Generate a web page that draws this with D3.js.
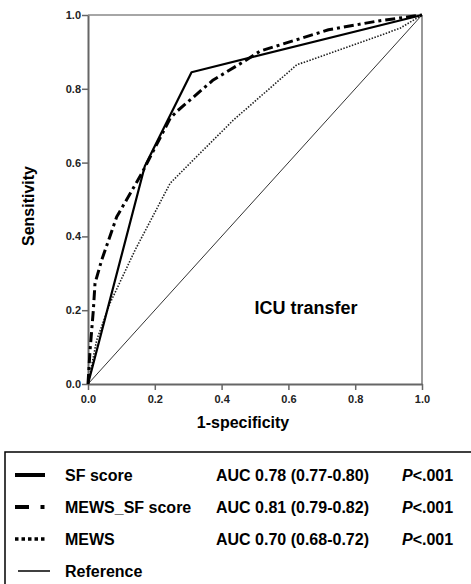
<!DOCTYPE html>
<html>
<head>
<meta charset="utf-8">
<script src="https://cdn.jsdelivr.net/npm/d3@7"></script>
<style>
    body { margin: 0; background: #fff; }
    text { font-family: "Liberation Sans", Arial, sans-serif; }
</style>
</head>
<body>
<div id="wrapper"></div>
<script>
// ROC points (1-specificity, sensitivity)
const sfFpr = [0, 0.17, 0.31, 1];
const sfTpr = [0, 0.59, 0.845, 1];

const mewsSfFpr = [0, 0.006, 0.016, 0.021, 0.041, 0.086, 0.161, 0.246, 0.265, 0.375, 0.465, 0.515, 0.72, 0.87, 1];
const mewsSfTpr = [0, 0.09, 0.2, 0.273, 0.336, 0.453, 0.571, 0.72, 0.738, 0.824, 0.873, 0.902, 0.96, 0.984, 1];

const mewsFpr = [0, 0.026, 0.066, 0.141, 0.246, 0.315, 0.435, 0.625, 0.814, 0.934, 1];
const mewsTpr = [0, 0.119, 0.219, 0.363, 0.544, 0.607, 0.715, 0.865, 0.925, 0.964, 1];

const refFpr = [0, 1];
const refTpr = [0, 1];

const tickValues = [0, 0.2, 0.4, 0.6, 0.8, 1.0];

const legendNames = ["SF score", "MEWS_SF score", "MEWS", "Reference"];
const legendAuc = ["AUC 0.78 (0.77-0.80)", "AUC 0.81 (0.79-0.82)", "AUC 0.70 (0.68-0.72)", ""];
const legendP = ["<.001", "<.001", "<.001", ""];

let wSvg = 471;
let hSvg = 584;

let svg = d3.select("#wrapper")
    .append("svg")
    .attr("width", wSvg)
    .attr("height", hSvg);

let xScale = d3.scaleLinear().domain([0, 1]).range([88, 422]);
let yScale = d3.scaleLinear().domain([0, 1]).range([384, 15]);

// frame (top + right)
svg.append("line")
    .attr("x1", xScale(0)).attr("x2", xScale(1))
    .attr("y1", yScale(1)).attr("y2", yScale(1))
    .attr("stroke", "#888").attr("stroke-width", 1.5);
svg.append("line")
    .attr("x1", xScale(1)).attr("x2", xScale(1))
    .attr("y1", yScale(0)).attr("y2", yScale(1))
    .attr("stroke", "#555").attr("stroke-width", 1.2);

// axes
let xAxis = svg.append("g")
    .attr("transform", `translate(0,${yScale(0)})`)
    .call(d3.axisBottom(xScale).tickValues(tickValues).tickFormat(d3.format(".1f")).tickSize(6).tickSizeOuter(0));
let yAxis = svg.append("g")
    .attr("transform", `translate(${xScale(0)},0)`)
    .call(d3.axisLeft(yScale).tickValues(tickValues).tickFormat(d3.format(".1f")).tickSize(6).tickSizeOuter(0));

[xAxis, yAxis].forEach(ax => {
    ax.select(".domain").attr("stroke", "#666").attr("stroke-width", 2);
    ax.selectAll(".tick line").attr("stroke", "#666").attr("stroke-width", 1.5);
    ax.selectAll(".tick text")
        .attr("fill", "#222")
        .style("font-family", "'Liberation Sans', Arial, sans-serif")
        .style("font-size", "11px")
        .style("font-weight", "bold");
});
xAxis.selectAll(".tick text").attr("dy", "0.9em");
yAxis.selectAll(".tick text").attr("x", -7);

let line = d3.line()
    .x(d => xScale(d[0]))
    .y(d => yScale(d[1]));

const series = [
    { fpr: refFpr, tpr: refTpr, width: 1, dash: null, color: "#333" },
    { fpr: mewsFpr, tpr: mewsTpr, width: 1.6, dash: "1.5,1.5", color: "#222" },
    { fpr: sfFpr, tpr: sfTpr, width: 2.2, dash: null, color: "#000" },
    { fpr: mewsSfFpr, tpr: mewsSfTpr, width: 3, dash: "10,4,3,4", color: "#000" }
];

series.forEach(s => {
    let pts = s.fpr.map((x, i) => [x, s.tpr[i]]);
    let p = svg.append("path")
        .datum(pts)
        .attr("d", line)
        .attr("fill", "none")
        .attr("stroke", s.color)
        .attr("stroke-width", s.width)
        .attr("stroke-linejoin", "round");
    if (s.dash) p.attr("stroke-dasharray", s.dash);
});

// titles
svg.append("text")
    .attr("x", 243).attr("y", 428)
    .attr("text-anchor", "middle")
    .style("font-size", "16px").style("font-weight", "bold")
    .text("1-specificity");

svg.append("text")
    .attr("transform", "translate(34,206) rotate(-90)")
    .attr("text-anchor", "middle")
    .style("font-size", "16px").style("font-weight", "bold")
    .text("Sensitivity");

svg.append("text")
    .attr("x", 306).attr("y", 314)
    .attr("text-anchor", "middle")
    .style("font-size", "18px").style("font-weight", "bold")
    .text("ICU transfer");

// legend box
svg.append("path")
    .attr("d", `M5,${hSvg + 2} V452 H${wSvg + 2}`)
    .attr("fill", "none")
    .attr("stroke", "#000")
    .attr("stroke-width", 1.5);

let rowY = d3.scaleLinear().domain([0, 3]).range([475, 571]);

let legend = svg.selectAll(".leg")
    .data(legendNames)
    .enter()
    .append("g")
    .attr("class", "leg")
    .attr("transform", (d, i) => `translate(0,${rowY(i)})`);

// samples
legend.each(function (d, i) {
    let g = d3.select(this);
    if (i === 0) {
        g.append("line").attr("x1", 15).attr("x2", 45).attr("y1", 0).attr("y2", 0)
            .attr("stroke", "#000").attr("stroke-width", 4);
    } else if (i === 1) {
        g.append("line").attr("x1", 15).attr("x2", 45).attr("y1", 0).attr("y2", 0)
            .attr("stroke", "#000").attr("stroke-width", 4)
            .attr("stroke-dasharray", "14,11.5,4,20");
    } else if (i === 2) {
        g.append("line").attr("x1", 15).attr("x2", 46).attr("y1", 0).attr("y2", 0)
            .attr("stroke", "#000").attr("stroke-width", 3.5)
            .attr("stroke-dasharray", "3.5,3");
    } else {
        g.append("line").attr("x1", 18).attr("x2", 50).attr("y1", 0).attr("y2", 0)
            .attr("stroke", "#000").attr("stroke-width", 1.5);
    }
});

legend.append("text")
    .attr("x", 65).attr("y", 6)
    .style("font-size", "16px").style("font-weight", "bold")
    .text(d => d);

legend.append("text")
    .attr("x", 216).attr("y", 6)
    .style("font-size", "16px").style("font-weight", "bold")
    .text((d, i) => legendAuc[i]);

let pText = legend.filter((d, i) => legendP[i] !== "")
    .append("text")
    .attr("x", 402).attr("y", 6)
    .style("font-size", "16px").style("font-weight", "bold");
pText.append("tspan").style("font-style", "italic").text("P");
pText.append("tspan").text((d, i) => legendP[i]);
</script>
</body>
</html>
